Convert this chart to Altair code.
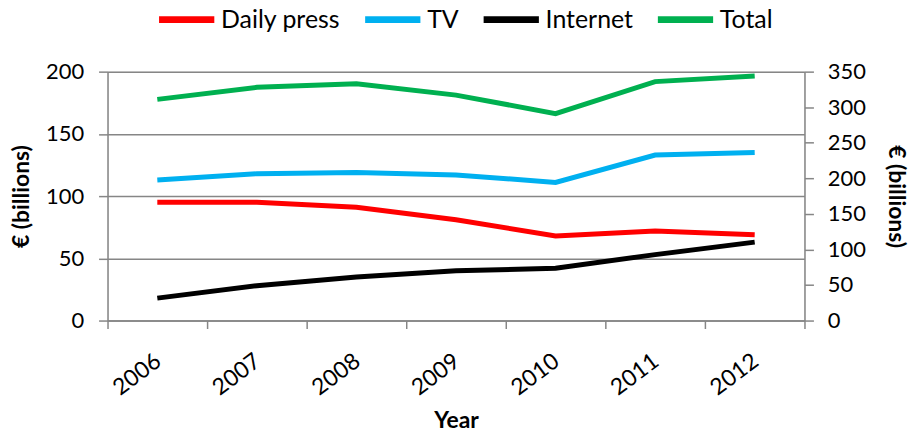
import altair as alt
import pandas as pd

years = ["2006", "2007", "2008", "2009", "2010", "2011", "2012"]
daily_press = [95, 95, 91, 81, 68, 72, 69]
tv = [113, 118, 119, 117, 111, 133, 135]
internet = [18, 28, 35, 40, 42, 53, 63]
total = [311, 328, 333, 317, 291, 336, 344]

series_names = ["Daily press", "TV", "Internet", "Total"]
series_colors = ["#ff0000", "#00b0f0", "#000000", "#00b050"]

left_df = pd.DataFrame(
    {
        "Year": years * 3,
        "Series": ["Daily press"] * 7 + ["TV"] * 7 + ["Internet"] * 7,
        "Value": daily_press + tv + internet,
    }
)
right_df = pd.DataFrame({"Year": years, "Series": ["Total"] * 7, "Value": total})

FONT = "Lato"
GRAY = "#868686"

# long flat line swatches in the legend
color = alt.Color(
    "Series:N",
    scale=alt.Scale(domain=series_names, range=series_colors),
    sort=series_names,
    legend=alt.Legend(
        title=None,
        orient="none",
        direction="horizontal",
        legendX=61,
        legendY=-71,
        symbolType="M-1.85,0H1.85",
        symbolStrokeWidth=7,
        symbolSize=900,
        labelFont=FONT,
        labelFontSize=25,
        labelColor="#000000",
        labelOffset=16,
        columnPadding=10,
    ),
)

x = alt.X(
    "Year:O",
    sort=years,
    scale=alt.Scale(type="band", paddingInner=0, paddingOuter=0),
    axis=alt.Axis(
        title="Year",
        titleFont=FONT,
        titleFontSize=23,
        titleFontWeight="bold",
        titleColor="#000000",
        titlePadding=10,
        labelFont=FONT,
        labelFontSize=23,
        labelColor="#000000",
        labelAngle=-37,
        labelAlign="right",
        labelBaseline="top",
        labelPadding=21,
        labelOffset=-6,
        tickBand="extent",
        tickColor=GRAY,
        tickWidth=1.5,
        tickSize=8,
        domainColor=GRAY,
        domainWidth=1.5,
        grid=False,
    ),
)

left = (
    alt.Chart(left_df)
    .mark_line(strokeWidth=5)
    .encode(
        x=x,
        y=alt.Y(
            "Value:Q",
            scale=alt.Scale(domain=[0, 200]),
            axis=alt.Axis(
                title="€ (billions)",
                values=[0, 50, 100, 150, 200],
                titleFont=FONT,
                titleFontSize=23,
                titleFontWeight="bold",
                titleColor="#000000",
                titlePadding=12,
                labelFont=FONT,
                labelFontSize=22,
                labelColor="#000000",
                labelPadding=15,
                tickColor=GRAY,
                tickWidth=1.5,
                tickSize=9,
                domainColor=GRAY,
                domainWidth=1.5,
                grid=True,
                gridColor=GRAY,
                gridWidth=1.5,
            ),
        ),
        color=color,
    )
)

right = (
    alt.Chart(right_df)
    .mark_line(strokeWidth=5)
    .encode(
        x=x,
        y=alt.Y(
            "Value:Q",
            scale=alt.Scale(domain=[0, 350]),
            axis=alt.Axis(
                title="€ (billions)",
                orient="right",
                values=[0, 50, 100, 150, 200, 250, 300, 350],
                titleFont=FONT,
                titleFontSize=23,
                titleFontWeight="bold",
                titleColor="#000000",
                titlePadding=18,
                labelFont=FONT,
                labelFontSize=22,
                labelColor="#000000",
                labelPadding=14,
                tickColor=GRAY,
                tickWidth=1.5,
                tickSize=9,
                domainColor=GRAY,
                domainWidth=1.5,
                grid=False,
            ),
        ),
        color=color,
    )
)

chart = (
    alt.layer(left, right)
    .resolve_scale(y="independent")
    .properties(width=700, height=250, padding={"left": 10, "top": 0, "right": 5, "bottom": 5})
    .configure_view(stroke=None)
    .configure(background="#ffffff")
)

chart.save("out.html", embed_options={"renderer": "svg", "actions": False})
